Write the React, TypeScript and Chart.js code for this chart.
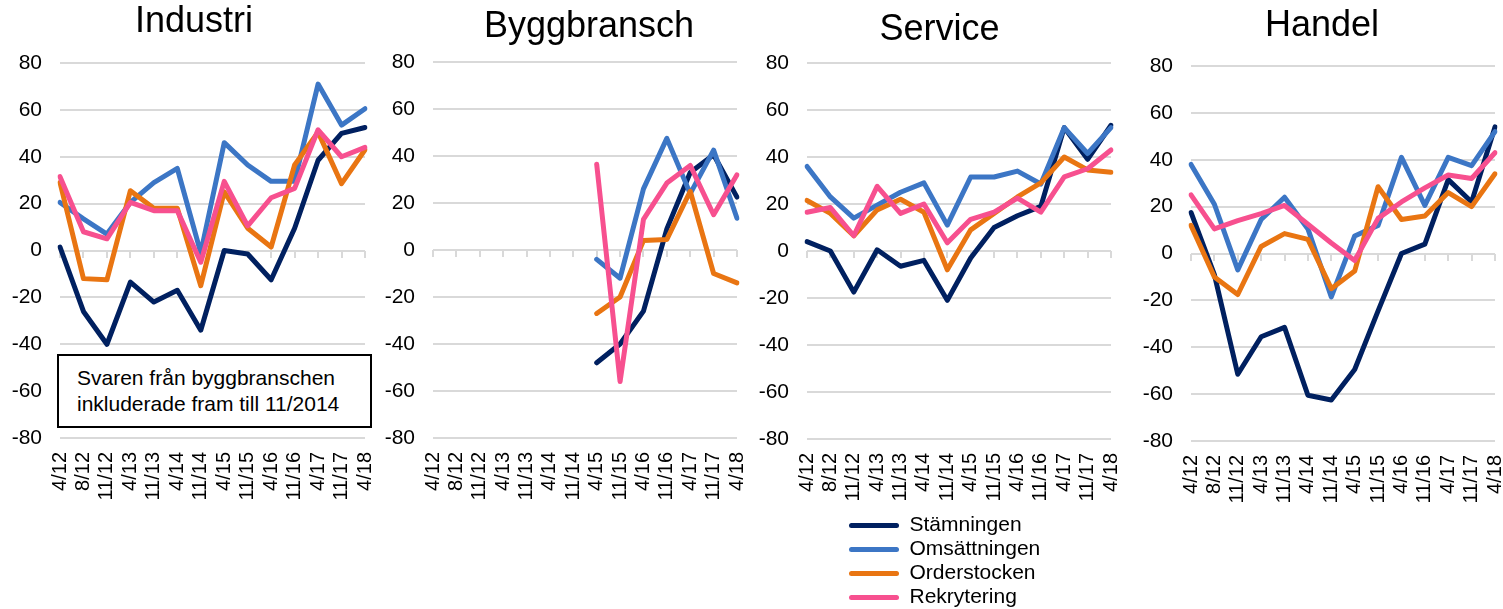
import React, { useEffect, useRef } from "react";
import { Chart, registerables } from "chart.js";

Chart.register(...registerables);

// ---------- DATA ----------
const categories = ["4/12", "8/12", "11/12", "4/13", "11/13", "4/14", "11/14", "4/15", "11/15", "4/16", "11/16", "4/17", "11/17", "4/18"];
const seriesNames = ["Stämningen", "Omsättningen", "Orderstocken", "Rekrytering"];
const panelTitles = ["Industri", "Byggbransch", "Service", "Handel"];
const yTickValues = [-80, -60, -40, -20, 0, 20, 40, 60, 80];
const noteLines = ["Svaren från byggbranschen", "inkluderade fram till 11/2014"];

const industriStamning = [1.5, -26, -40, -13.5, -22, -17, -34, 0, -1.5, -12.5, 9.5, 38.5, 50, 52.5];
const industriOmsattning = [20.5, 13.5, 7, 20.5, 29, 35, -1, 46, 36.5, 29.5, 29.5, 71, 53.5, 60.5];
const industriOrder = [29, -12, -12.5, 25.5, 18, 18, -15, 25, 9.5, 1.5, 36.5, 50.5, 28.5, 43];
const industriRekrytering = [31.5, 8, 5, 20.5, 17, 17, -5, 29.5, 10.5, 22.5, 26.5, 51.5, 40, 44];

const byggStamning = [null, null, null, null, null, null, null, -48, -40, -26, 9, 33, 40.5, 22.5];
const byggOmsattning = [null, null, null, null, null, null, null, -4, -12, 26, 47.5, 24, 42.5, 13.5];
const byggOrder = [null, null, null, null, null, null, null, -27, -20, 4, 4.5, 25, -10, -14];
const byggRekrytering = [null, null, null, null, null, null, null, 36.5, -56, 13, 28.5, 36, 15, 32];

const serviceStamning = [4, 0, -17.5, 0.5, -6.5, -4, -21, -3, 10, 15, 19, 52.5, 39, 53.5];
const serviceOmsattning = [36, 23, 14, 19.5, 25, 29, 11, 31.5, 31.5, 34, 28.5, 52.5, 41.5, 52.5];
const serviceOrder = [21.5, 16, 6.5, 17.5, 22, 16.5, -8, 9, 16, 23, 29, 40, 34.5, 33.5];
const serviceRekrytering = [16.5, 18.5, 6.5, 27.5, 16, 20, 3.5, 13.5, 16.5, 22.5, 16.5, 31.5, 35, 43];

const handelStamning = [17.5, -9, -51.5, -35.5, -31.5, -60.5, -62.5, -49.5, -24.5, 0, 4, 31.5, 22, 54];
const handelOmsattning = [38, 21, -7, 14.5, 24, 10.5, -18.5, 7.5, 12, 41, 20.5, 41, 37.5, 52];
const handelOrder = [12, -10, -17.5, 3, 8.5, 6, -15, -7.5, 28.5, 14.5, 16, 26, 20, 34];
const handelRekrytering = [25, 10.5, 14, 17, 20.5, 12.5, 4.5, -3, 15, 22, 28, 33.5, 32, 43];

const panelSeries = [
  [industriStamning, industriOmsattning, industriOrder, industriRekrytering],
  [byggStamning, byggOmsattning, byggOrder, byggRekrytering],
  [serviceStamning, serviceOmsattning, serviceOrder, serviceRekrytering],
  [handelStamning, handelOmsattning, handelOrder, handelRekrytering],
];

// ---------- STYLE / LAYOUT ----------
const FONT = "'Liberation Sans', Arial, Helvetica, sans-serif";
const seriesColors = ["#002060", "#3C76C5", "#E97512", "#F7508F"];
const GRID = "#d9d9d9";
const Y_AXIS_W = 60;
const X_AXIS_H = 100;
const RIGHT_PAD = 20;

const panelLayout = [
  { plotLeft: 60, plotW: 305, plotTop: 63, plotBottom: 438, pt: 0.4, titleCenter: 194 },
  { plotLeft: 433, plotW: 304, plotTop: 62, plotBottom: 438, pt: 5.4, titleCenter: 589 },
  { plotLeft: 807, plotW: 304, plotTop: 63, plotBottom: 439, pt: 8.9, titleCenter: 939.5 },
  { plotLeft: 1191, plotW: 304, plotTop: 66, plotBottom: 441, pt: 4.9, titleCenter: 1322 },
];

const legendBox = { left: 846, top: 512, width: 400, height: 104 };

function panelConfig(i: number): any {
  const lay = panelLayout[i];
  const pb = lay.plotTop - 43.2 - lay.pt;
  const canvasLeft = lay.plotLeft - Y_AXIS_W;
  const titleShift = {
    id: "titleShift" + i,
    afterLayout(chart: any) {
      const t = chart.titleBlock;
      if (!t) return;
      const dx = lay.titleCenter - (canvasLeft + (t.left + t.right) / 2);
      t.left += dx;
      t.right += dx;
    },
  };
  return {
    type: "line",
    plugins: [titleShift],
    data: {
      labels: categories,
      datasets: panelSeries[i].map((vals, k) => ({
        label: seriesNames[k],
        data: vals,
        borderColor: seriesColors[k],
        backgroundColor: seriesColors[k],
        borderWidth: 5,
        pointRadius: 0,
        pointHoverRadius: 0,
        tension: 0,
        fill: false,
        borderJoinStyle: "round",
        borderCapStyle: "round",
        spanGaps: false,
        order: 3 - k,
      })),
    },
    options: {
      responsive: false,
      animation: false,
      events: [],
      layout: { padding: { left: 0, right: RIGHT_PAD, top: 0, bottom: 0 } },
      plugins: {
        legend: { display: false },
        tooltip: { enabled: false },
        title: {
          display: true,
          text: panelTitles[i],
          fullSize: true,
          color: "#000",
          font: { family: FONT, size: 36, weight: "normal", lineHeight: 1.2 },
          padding: { top: lay.pt, bottom: pb },
        },
      },
      scales: {
        x: {
          type: "category",
          position: "bottom",
          offset: false,
          grid: { display: false },
          border: { display: false },
          ticks: {
            autoSkip: false,
            minRotation: 90,
            maxRotation: 90,
            padding: 6,
            color: "#000",
            font: { family: FONT, size: 20 },
          },
          afterFit: (s: any) => {
            s.height = X_AXIS_H;
            s.paddingLeft = 0;
            s.paddingRight = 0;
          },
        },
        x0: {
          type: "category",
          position: { y: 0 },
          offset: false,
          grid: {
            display: true,
            drawOnChartArea: false,
            drawTicks: true,
            tickLength: 7,
            color: GRID,
            lineWidth: 2,
          },
          border: { display: false },
          ticks: { display: false },
          afterFit: (s: any) => {
            s.paddingLeft = 0;
            s.paddingRight = 0;
          },
        },
        y: {
          type: "linear",
          position: "left",
          min: -80,
          max: 80,
          grid: { color: GRID, lineWidth: 2, drawTicks: false },
          border: { display: false },
          ticks: {
            padding: 18,
            color: "#000",
            font: { family: FONT, size: 21 },
          },
          afterBuildTicks: (s: any) => {
            s.ticks = yTickValues.map((v) => ({ value: v }));
          },
          afterFit: (s: any) => {
            s.width = Y_AXIS_W;
          },
        },
      },
    },
  };
}

function legendConfig(): any {
  return {
    type: "line",
    data: {
      labels: [],
      datasets: seriesNames.map((name, k) => ({
        label: name,
        data: [],
        borderColor: seriesColors[k],
        backgroundColor: seriesColors[k],
        borderWidth: 5,
      })),
    },
    options: {
      responsive: false,
      animation: false,
      events: [],
      layout: { padding: 0 },
      scales: { x: { display: false }, y: { display: false } },
      plugins: {
        tooltip: { enabled: false },
        title: { display: false },
        legend: {
          display: true,
          position: "left",
          align: "start",
          maxWidth: 300,
          labels: {
            boxWidth: 50,
            boxHeight: 5,
            padding: 3,
            color: "#000",
            font: { family: FONT, size: 21 },
            generateLabels: (chart: any) =>
              chart.data.datasets.map((ds: any, k: number) => ({
                text: ds.label,
                fillStyle: ds.borderColor,
                strokeStyle: ds.borderColor,
                lineWidth: 0,
                hidden: false,
                datasetIndex: k,
                borderRadius: 2.5,
                fontColor: "#000",
              })),
          },
        },
      },
    },
  };
}

export default function App() {
  const refs = [
    useRef<HTMLCanvasElement>(null),
    useRef<HTMLCanvasElement>(null),
    useRef<HTMLCanvasElement>(null),
    useRef<HTMLCanvasElement>(null),
  ];
  const legendRef = useRef<HTMLCanvasElement>(null);

  useEffect(() => {
    const charts: Chart[] = [];
    refs.forEach((r, i) => {
      if (r.current) charts.push(new Chart(r.current, panelConfig(i)));
    });
    if (legendRef.current) charts.push(new Chart(legendRef.current, legendConfig()));
    return () => charts.forEach((c) => c.destroy());
  }, []);

  return (
    <div
      style={{
        position: "absolute",
        left: 0,
        top: 0,
        width: 1503,
        height: 609,
        overflow: "hidden",
        background: "#fff",
      }}
    >
      {panelLayout.map((lay, i) => {
        const left = lay.plotLeft - Y_AXIS_W;
        const width = Y_AXIS_W + lay.plotW + RIGHT_PAD;
        const height = lay.plotBottom + X_AXIS_H;
        return (
          <canvas
            key={i}
            ref={refs[i]}
            width={width}
            height={height}
            style={{ position: "absolute", left, top: 0, width, height, display: "block" }}
          />
        );
      })}
      <canvas
        ref={legendRef}
        width={legendBox.width}
        height={legendBox.height}
        style={{
          position: "absolute",
          left: legendBox.left,
          top: legendBox.top,
          width: legendBox.width,
          height: legendBox.height,
          display: "block",
        }}
      />
      <div
        style={{
          position: "absolute",
          left: 57,
          top: 354,
          width: 315,
          height: 74,
          boxSizing: "border-box",
          border: "2px solid #000",
          background: "#fff",
          padding: "9px 0 0 18px",
          fontFamily: FONT,
          fontSize: 21,
          lineHeight: "26px",
          color: "#000",
          whiteSpace: "nowrap",
        }}
      >
        {noteLines.map((t, i) => (
          <div key={i}>{t}</div>
        ))}
      </div>
    </div>
  );
}
